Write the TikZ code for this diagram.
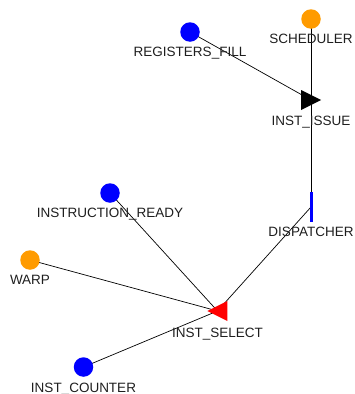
\documentclass[tikz,border=0pt]{standalone}
\usepackage{fontspec}
\setmainfont{Liberation Sans}
\usetikzlibrary{shapes.geometric,backgrounds}

\definecolor{warporange}{RGB}{255,155,0}
\definecolor{tagtext}{RGB}{30,30,30}

\tikzset{
  vertex/.style={circle,fill=#1,minimum size=19.5pt,inner sep=0pt},
  gate/.style={isosceles triangle,isosceles triangle apex angle=53,
    isosceles triangle stretches,minimum width=20pt,minimum height=20pt,
    inner sep=0pt,fill=#1},
  bar/.style={rectangle,fill=blue,minimum width=3pt,minimum height=30pt,inner sep=0pt},
  tag/.style={text=tagtext,font=\fontsize{13.5}{14}\selectfont,inner sep=0pt,anchor=north},
  wire/.style={draw=black,line width=0.7pt}
}

\begin{document}
\begin{tikzpicture}[x=1pt,y=-1pt]
  \useasboundingbox (0,0) rectangle (354,394);

  % shapes
  \node[vertex=blue] (regs) at (190,32) {};
  \node[vertex=warporange] (sched) at (311,19) {};
  \node[gate=black,shape border rotate=0,anchor=lower side] (issue) at (301,100) {};
  \node[bar] (disp) at (311,207) {};
  \node[vertex=blue] (ready) at (110,193) {};
  \node[vertex=warporange] (warp) at (30,260) {};
  \node[gate=red,shape border rotate=180,anchor=lower side] (select) at (227.5,311) {};
  \node[vertex=blue] (counter) at (83.5,367) {};

  % labels
  \node[tag] (regs-t) at ([yshift=-15pt]regs.center) {REGISTERS\_FILL};
  \node[tag] (sched-t) at ([yshift=-15pt]sched.center) {SCHEDULER};
  \node[tag] (issue-t) at ([xshift=10pt,yshift=-15.5pt]issue.lower side) {INST\_ISSUE};
  \node[tag] (disp-t) at ([yshift=-20pt]disp.center) {DISPATCHER};
  \node[tag] (ready-t) at ([yshift=-15pt]ready.center) {INSTRUCTION\_READY};
  \node[tag] (warp-t) at ([yshift=-15pt]warp.center) {WARP};
  \node[tag] (select-t) at ([xshift=-10pt,yshift=-17pt]select.lower side) {INST\_SELECT};
  \node[tag] (counter-t) at ([yshift=-16pt]counter.center) {INST\_COUNTER};

  % edges
  \begin{scope}[on background layer]
    \draw[wire] (regs.center) -- ([xshift=10pt]issue.lower side);
    \draw[wire] (sched.center) -- ([xshift=10pt]issue.lower side);
    \draw[wire] ([xshift=10pt]issue.lower side) -- (disp.center);
    \draw[wire] (disp.center) -- ([xshift=-10pt]select.lower side);
    \draw[wire] (ready.center) -- ([xshift=-10pt]select.lower side);
    \draw[wire] (warp.center) -- ([xshift=-10pt]select.lower side);
    \draw[wire] (counter.center) -- ([xshift=-10pt]select.lower side);
  \end{scope}
\end{tikzpicture}
\end{document}
